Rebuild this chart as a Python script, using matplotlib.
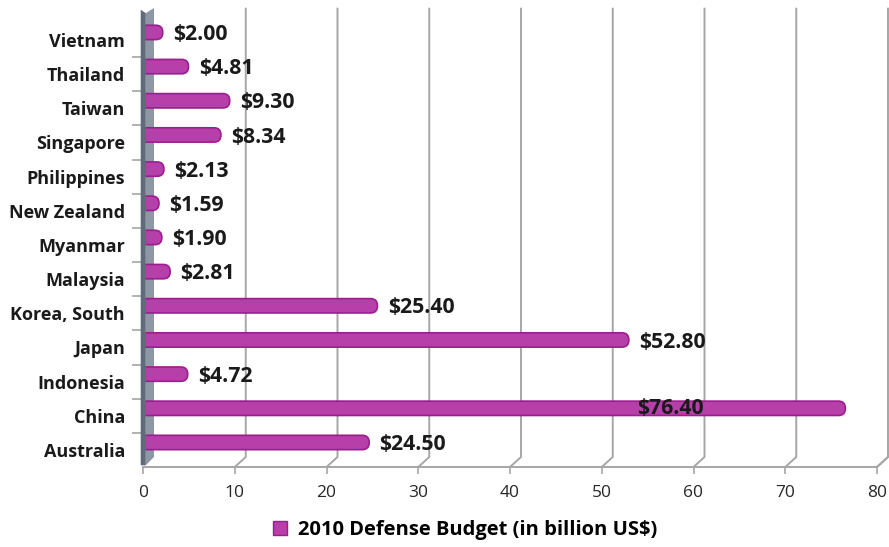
import numpy as np
import matplotlib.pyplot as plt
from matplotlib.patches import Polygon, Patch, FancyBboxPatch

plt.rcParams['font.family'] = ['Open Sans', 'DejaVu Sans']

countries = ['Australia', 'China', 'Indonesia', 'Japan', 'Korea, South', 'Malaysia',
             'Myanmar', 'New Zealand', 'Philippines', 'Singapore', 'Taiwan',
             'Thailand', 'Vietnam']
budget = [24.50, 76.40, 4.72, 52.80, 25.40, 2.81, 1.90, 1.59, 2.13, 8.34, 9.30,
          4.81, 2.00]
value_labels = ['$%.2f' % v for v in budget]
xticks = [0, 10, 20, 30, 40, 50, 60, 70, 80]
legend_label = '2010 Defense Budget (in billion US$)'

bar_color = '#B63FA9'
edge_color = '#9C1E8E'
grid_color = '#A6A6A6'

fig = plt.figure(figsize=(8.89, 5.47), dpi=100)
ax = fig.add_axes([143/889, 1 - 467/547, 734/889, 459/547])

n = len(countries)
ypos = np.arange(n)
ax.set_xlim(0, 80)
ax.set_ylim(-0.4975, 12.935)

# pixel -> data helpers for the fake 3d depth
dx = 11 / 9.175
dy = 10 / 34.17
ytop = 12.935
ybot = -0.4975

# back wall gridlines with slanted feet
for v in xticks[1:]:
    ax.plot([v, v + dx, v + dx], [ybot, ybot + dy, ytop - 0.02], color=grid_color,
            lw=1.4, zorder=1, clip_on=False)
# right edge of floor
ax.plot([80, 80 + dx], [ybot, ybot + dy], color=grid_color, lw=1.4, clip_on=False)

# left wall
wall_front = Polygon([[-0.25, ybot + 0.05], [0.3, ybot + 0.05], [0.3, ytop - 0.15],
                      [-0.25, ytop - 0.05]], closed=True, facecolor='#5F6B7A',
                     edgecolor='none', zorder=5, clip_on=False)
wall_side = Polygon([[0.3, ybot + 0.05], [dx, ybot + dy], [dx, ytop],
                     [0.3, ytop - 0.15]], closed=True, facecolor='#8E98A4',
                    edgecolor='none', zorder=2, clip_on=False)
ax.add_patch(wall_side)
ax.add_patch(wall_front)

bar_y = ypos + 0.22
bars = ax.barh(bar_y, budget, left=0.15, height=0.42, color=bar_color,
               edgecolor=edge_color, linewidth=1.2, zorder=3)
# swap plain rectangles for rounded ones (excel 3d cylinder look)
aspect = 9.175 / 34.17
for rect in bars.patches:
    x0, y0 = rect.get_x(), rect.get_y()
    w, h = rect.get_width(), rect.get_height()
    rnd = FancyBboxPatch((x0 - 0.8, y0), w + 0.8, h,
                         boxstyle='round,pad=0,rounding_size=0.75',
                         mutation_aspect=aspect, facecolor=bar_color,
                         edgecolor=edge_color, linewidth=1.2, zorder=3)
    ax.add_patch(rnd)
    rect.set_visible(False)

for i, (v, lab) in enumerate(zip(budget, value_labels)):
    if v > 70:
        ax.text(57.5, bar_y[i], lab, ha='center', va='center', fontsize=15.3,
                fontweight='bold', color='#1A1A1A', zorder=4)
    else:
        ax.annotate(lab, (v + 0.15, bar_y[i]), xytext=(7.5, -1.5), textcoords='offset points',
                    ha='left', va='center', fontsize=15.3, fontweight='bold',
                    color='#1A1A1A', zorder=4)

for s in ['top', 'right', 'left']:
    ax.spines[s].set_visible(False)
ax.spines['bottom'].set_color(grid_color)
ax.spines['bottom'].set_linewidth(1.4)

ax.set_xticks(xticks)
ax.set_xticklabels([str(t) for t in xticks], fontsize=12.5, color='#262626')
ax.tick_params(axis='x', length=5, width=1.2, color=grid_color, pad=8)

# boundary ticks on y, labels as minor ticks
ax.set_yticks(np.arange(n - 1) + 0.5)
ax.set_yticklabels([])
ax.tick_params(axis='y', which='major', length=8, width=1.2, color=grid_color)
ax.set_yticks(ypos, minor=True)
ax.set_yticklabels(countries, minor=True, fontsize=13, fontweight='bold',
                   color='#1A1A1A')
ax.tick_params(axis='y', which='minor', length=0, pad=13)

handle = Patch(facecolor=bar_color, edgecolor=edge_color)
fig.legend([handle], [legend_label], loc='center', bbox_to_anchor=(465/889, 1 - 530/547),
           frameon=False, handlelength=0.7, handleheight=0.7, handletextpad=0.55,
           prop={'family': 'Open Sans', 'weight': 'bold', 'size': 14.5})

fig.savefig('out.png', dpi=100)
